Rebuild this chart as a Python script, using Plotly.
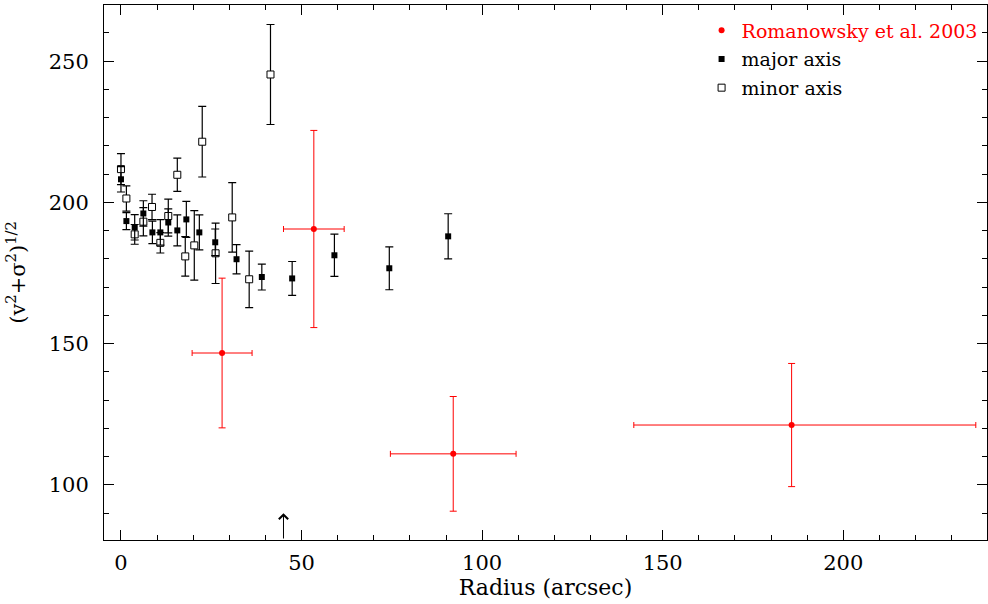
import plotly.graph_objects as go

# ---- data ----
major_r = [0, 1.5, 3.8, 6.2, 8.7, 10.9, 13.1, 15.6, 18.1, 21.7, 26.1, 32.0, 39.0, 47.4, 59.1, 74.3, 90.6]
major_v = [208.2, 193.4, 191.2, 196.1, 189.4, 189.4, 192.9, 190.1, 194.0, 189.4, 185.9, 179.9, 173.6, 173.1, 181.3, 176.7, 188.0]
major_err = [4.5, 3.0, 4.5, 4.5, 4.0, 4.5, 4.8, 5.5, 6.4, 6.2, 4.7, 5.2, 4.6, 6.0, 7.5, 7.6, 8.0]

minor_r = [0, 1.5, 3.8, 6.2, 8.6, 10.9, 13.1, 15.6, 17.8, 20.3, 22.5, 26.2, 30.8, 35.5, 41.4]
minor_v = [211.8, 201.4, 188.7, 193.2, 198.4, 185.7, 195.2, 209.8, 180.9, 184.8, 221.5, 182.0, 194.7, 172.8, 245.3]
minor_err = [5.5, 4.5, 3.5, 5.0, 4.5, 3.6, 6.0, 5.9, 7.0, 12.3, 12.5, 10.7, 12.3, 10.0, 17.7]

rom_r = [28.0, 53.4, 92.0, 185.7]
rom_v = [146.7, 190.6, 111.0, 121.2]
rom_verr = [26.5, 34.9, 20.3, 21.8]
rom_xerr_minus = [8.3, 8.4, 17.4, 43.7]
rom_xerr_plus = [8.3, 8.4, 17.4, 51.0]

arrow_radius = 45.0
arrow_tip_v = 90.0

x_range = [-4.7, 239.8]
y_range = [80.5, 269.9]

FONT = "DejaVu Serif"

fig = go.Figure()

fig.add_trace(go.Scatter(
    x=minor_r, y=minor_v, mode="markers", name="minor axis", legendgroup="c", legendrank=3,
    marker=dict(symbol="square", size=7, color="white", line=dict(color="black", width=1)),
    error_y=dict(type="data", array=minor_err, color="black", thickness=1.2, width=4),
))
fig.add_trace(go.Scatter(
    x=major_r, y=major_v, mode="markers", name="major axis", legendgroup="b", legendrank=2,
    marker=dict(symbol="square", size=6, color="black", line=dict(width=0)),
    error_y=dict(type="data", array=major_err, color="black", thickness=1.2, width=4),
))
fig.add_trace(go.Scatter(
    x=rom_r, y=rom_v, mode="markers", legendgroup="a", legendrank=1,
    name='<span style="color:red">Romanowsky et al. 2003</span>',
    marker=dict(symbol="circle", size=6, color="red", line=dict(width=0)),
    error_y=dict(type="data", array=rom_verr, color="red", thickness=1, width=3.5),
    error_x=dict(type="data", array=rom_xerr_plus, arrayminus=rom_xerr_minus,
                 symmetric=False, color="red", thickness=1, width=3),
))

fig.add_annotation(
    x=arrow_radius, y=arrow_tip_v, ax=arrow_radius, ay=y_range[0],
    xref="x", yref="y", axref="x", ayref="y",
    showarrow=True, arrowhead=4, arrowsize=1.8, arrowwidth=1, arrowcolor="black",
    standoff=0, startstandoff=0, text="",
)

axis_common = dict(
    showgrid=False, zeroline=False, showline=True, linecolor="black", linewidth=1,
    mirror="allticks", ticks="inside", ticklen=10, tickwidth=1, tickcolor="black",
    tickfont=dict(family=FONT, size=21, color="black"),
)

fig.update_xaxes(
    **axis_common, range=x_range, dtick=50, tick0=0,
    minor=dict(dtick=10, ticklen=5, ticks="inside", tickcolor="black", tickwidth=1),
    ticklabelstandoff=4,
    title=dict(text="Radius (arcsec)", font=dict(family=FONT, size=22, color="black"), standoff=5),
)
fig.update_yaxes(
    **axis_common, range=y_range, dtick=50, tick0=0,
    minor=dict(dtick=10, ticklen=5, ticks="inside", tickcolor="black", tickwidth=1),
    ticklabelstandoff=10,
    title=dict(text="(v<sup>2</sup>+σ<sup>2</sup>)<sup>1/2</sup>",
               font=dict(family=FONT, size=21, color="black"), standoff=17),
)

fig.update_layout(
    width=988, height=604,
    margin=dict(l=104, r=1, t=5, b=64),
    paper_bgcolor="white", plot_bgcolor="white",
    showlegend=True,
    legend=dict(
        x=0.995, xanchor="right", y=0.988, yanchor="top",
        traceorder="grouped",
        font=dict(family=FONT, size=19, color="black"),
        bgcolor="rgba(0,0,0,0)", borderwidth=0, itemwidth=30,
        tracegroupgap=1,
    ),
)

fig.write_html("out.html")
